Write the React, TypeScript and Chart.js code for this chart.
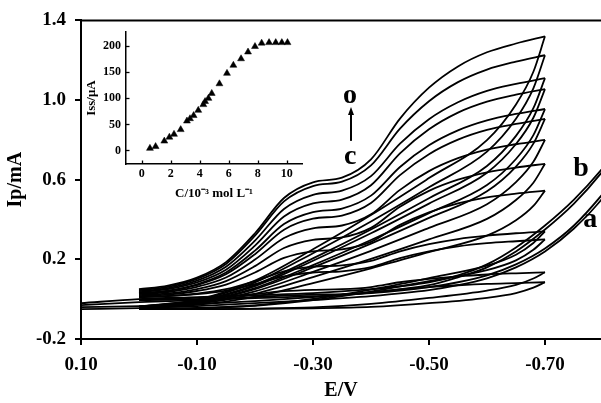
import React, { useEffect, useRef } from 'react';
import { Chart, registerables } from 'chart.js';
Chart.register(...registerables);

// ---- main chart data (E in V, I in mA) ----
const FWD_E = [0.0, -0.05, -0.1, -0.15, -0.2, -0.25, -0.3, -0.35, -0.4, -0.45, -0.5, -0.55, -0.6, -0.65, -0.7];
const REV_E = [-0.7, -0.68, -0.65, -0.6, -0.5, -0.4, -0.3, -0.2, -0.1, 0.0];

const o_fwd = [0.05, 0.068, 0.108, 0.186, 0.331, 0.508, 0.587, 0.61, 0.702, 0.907, 1.062, 1.169, 1.24, 1.284, 1.32];
const o_rev = [1.32, 1.142, 0.978, 0.799, 0.608, 0.423, 0.251, 0.094, -0.002, -0.036];
const n_fwd = [0.045, 0.062, 0.102, 0.177, 0.319, 0.491, 0.568, 0.59, 0.672, 0.856, 0.994, 1.09, 1.153, 1.193, 1.225];
const n_rev = [1.225, 1.059, 0.906, 0.741, 0.562, 0.39, 0.231, 0.084, -0.005, -0.037];
const m_fwd = [0.04, 0.056, 0.093, 0.163, 0.294, 0.453, 0.524, 0.545, 0.618, 0.781, 0.904, 0.989, 1.046, 1.081, 1.11];
const m_rev = [1.11, 0.959, 0.82, 0.669, 0.507, 0.35, 0.205, 0.072, -0.009, -0.038];
const l_fwd = [0.035, 0.05, 0.084, 0.148, 0.269, 0.415, 0.481, 0.5, 0.572, 0.732, 0.853, 0.937, 0.992, 1.027, 1.055];
const l_rev = [1.055, 0.911, 0.779, 0.635, 0.48, 0.331, 0.193, 0.066, -0.011, -0.039];
const k_fwd = [0.03, 0.043, 0.075, 0.134, 0.244, 0.377, 0.437, 0.455, 0.52, 0.664, 0.773, 0.848, 0.898, 0.93, 0.955];
const k_rev = [0.955, 0.824, 0.704, 0.573, 0.432, 0.297, 0.171, 0.056, -0.015, -0.04];
const j_fwd = [0.03, 0.042, 0.071, 0.125, 0.226, 0.349, 0.404, 0.42, 0.483, 0.623, 0.728, 0.801, 0.85, 0.88, 0.905];
const j_rev = [0.905, 0.781, 0.666, 0.542, 0.408, 0.279, 0.16, 0.05, -0.017, -0.04];
const i_fwd = [0.025, 0.036, 0.062, 0.109, 0.199, 0.307, 0.356, 0.37, 0.426, 0.549, 0.643, 0.708, 0.751, 0.778, 0.8];
const i_rev = [0.8, 0.69, 0.588, 0.477, 0.358, 0.243, 0.137, 0.039, -0.02, -0.042];
const h_fwd = [0.02, 0.029, 0.051, 0.091, 0.166, 0.257, 0.298, 0.31, 0.358, 0.464, 0.544, 0.6, 0.637, 0.661, 0.68];
const h_rev = [0.68, 0.585, 0.498, 0.403, 0.3, 0.202, 0.111, 0.027, -0.024, -0.043];
const g_fwd = [0.015, 0.023, 0.041, 0.073, 0.134, 0.207, 0.24, 0.25, 0.288, 0.373, 0.436, 0.481, 0.511, 0.53, 0.545];
const g_rev = [0.545, 0.468, 0.396, 0.319, 0.236, 0.155, 0.081, 0.012, -0.029, -0.044];
const f_fwd = [0.01, 0.016, 0.028, 0.05, 0.091, 0.14, 0.163, 0.17, 0.192, 0.24, 0.276, 0.302, 0.319, 0.331, 0.34];
const f_rev = [0.34, 0.282, 0.223, 0.168, 0.106, 0.048, 0.001, -0.031, -0.044, -0.048];
const e_fwd = [0.01, 0.015, 0.025, 0.043, 0.076, 0.115, 0.134, 0.14, 0.161, 0.206, 0.24, 0.265, 0.281, 0.291, 0.3];
const e_rev = [0.3, 0.248, 0.195, 0.146, 0.09, 0.038, -0.005, -0.033, -0.045, -0.048];
const d_fwd = [0.0, 0.002, 0.007, 0.014, 0.026, 0.04, 0.047, 0.05, 0.061, 0.085, 0.102, 0.115, 0.124, 0.13, 0.135];
const d_rev = [0.135, 0.104, 0.072, 0.043, 0.006, -0.024, -0.041, -0.047, -0.05, -0.05];
const c_fwd = [-0.005, -0.003, 0.0, 0.004, 0.011, 0.018, 0.023, 0.025, 0.033, 0.049, 0.061, 0.07, 0.077, 0.081, 0.085];
const c_rev = [0.085, 0.058, 0.031, 0.007, -0.02, -0.039, -0.046, -0.049, -0.05, -0.05];

// blank curves a, b (scanned beyond the plotted window)
const BLANK_E = [0.1, 0.0, -0.1, -0.2, -0.3, -0.4, -0.5, -0.55, -0.6, -0.65, -0.7, -0.75, -0.8, -0.85];
const a_fwd = [-0.03, -0.015, -0.005, 0.005, 0.015, 0.03, 0.06, 0.085, 0.12, 0.175, 0.255, 0.37, 0.53, 0.72];
const a_rev = [-0.05, -0.045, -0.035, -0.02, -0.005, 0.015, 0.045, 0.07, 0.105, 0.16, 0.24, 0.355, 0.51, 0.72];
const b_fwd = [-0.02, 0.0, 0.01, 0.02, 0.03, 0.05, 0.085, 0.12, 0.175, 0.26, 0.37, 0.5, 0.66, 0.85];
const b_rev = [-0.04, -0.035, -0.025, -0.01, 0.01, 0.035, 0.07, 0.11, 0.16, 0.24, 0.35, 0.48, 0.645, 0.85];

const X_TICKS = [-0.7, -0.5, -0.3, -0.1, 0.1];
const Y_TICKS = [-0.2, 0.2, 0.6, 1.0, 1.4];

// ---- inset data ----
const INSET_C = [0.57, 0.96, 1.56, 1.91, 2.23, 2.69, 3.12, 3.33, 3.58, 3.9, 4.25, 4.37, 4.6, 4.83, 5.36, 5.88, 6.32, 6.85, 7.33, 7.81, 8.27, 8.78, 9.24, 9.66, 10.05];
const INSET_I = [4, 7.5, 18, 25.5, 31, 40, 56.5, 61, 67, 77, 88, 94, 100, 109.5, 128, 148, 163.5, 176, 189, 199.5, 206, 207, 207, 207, 207];
const INSET_X_TICKS = [0, 2, 4, 6, 8, 10];
const INSET_Y_TICKS = [0, 50, 100, 150, 200];

const SERIF = '"Liberation Serif", "Times New Roman", serif';

function pts(xs: number[], ys: number[]) {
  return xs.map((x, i) => ({ x, y: ys[i] }));
}

function lineDs(data: { x: number; y: number }[]) {
  return {
    data,
    showLine: true,
    pointRadius: 0,
    borderColor: '#000',
    borderWidth: 1.8,
    fill: false,
    cubicInterpolationMode: 'monotone' as const,
  };
}

const LOOPS = [
  [c_fwd, c_rev], [d_fwd, d_rev], [e_fwd, e_rev], [f_fwd, f_rev], [g_fwd, g_rev],
  [h_fwd, h_rev], [i_fwd, i_rev], [j_fwd, j_rev], [k_fwd, k_rev], [l_fwd, l_rev],
  [m_fwd, m_rev], [n_fwd, n_rev], [o_fwd, o_rev],
];

const mainDecor = {
  id: 'mainDecor',
  afterDraw(chart: any) {
    const { ctx, chartArea, scales } = chart;
    const x = scales.x, y = scales.y;
    ctx.save();
    ctx.strokeStyle = '#000';
    ctx.lineWidth = 2;
    ctx.beginPath();
    ctx.moveTo(chartArea.left - 1, chartArea.top);
    ctx.lineTo(chartArea.right + 5, chartArea.top);
    ctx.stroke();
    ctx.fillStyle = '#000';
    ctx.font = 'bold 28px ' + SERIF;
    ctx.textAlign = 'center';
    ctx.textBaseline = 'alphabetic';
    ctx.fillText('o', x.getPixelForValue(-0.364), y.getPixelForValue(0.985));
    ctx.fillText('c', x.getPixelForValue(-0.364), y.getPixelForValue(0.68));
    ctx.fillText('b', x.getPixelForValue(-0.762), y.getPixelForValue(0.62));
    ctx.fillText('a', x.getPixelForValue(-0.778), y.getPixelForValue(0.36));
    // arrow c -> o
    const ax = x.getPixelForValue(-0.3655);
    const y0 = y.getPixelForValue(0.795);
    const y1 = y.getPixelForValue(0.965);
    ctx.lineWidth = 2;
    ctx.beginPath();
    ctx.moveTo(ax, y0);
    ctx.lineTo(ax, y1 + 5);
    ctx.stroke();
    ctx.beginPath();
    ctx.moveTo(ax, y1);
    ctx.lineTo(ax - 3, y1 + 8);
    ctx.lineTo(ax + 3, y1 + 8);
    ctx.closePath();
    ctx.fill();
    ctx.restore();
  },
};

const insetTicks = {
  id: 'insetTicks',
  afterDraw(chart: any) {
    const { ctx, chartArea, scales } = chart;
    ctx.save();
    ctx.strokeStyle = '#000';
    ctx.lineWidth = 1.3;
    scales.x.ticks.forEach((t: any) => {
      const px = Math.round(scales.x.getPixelForValue(t.value)) + 0.5;
      ctx.beginPath();
      ctx.moveTo(px, chartArea.bottom);
      ctx.lineTo(px, chartArea.bottom - 3.5);
      ctx.stroke();
    });
    scales.y.ticks.forEach((t: any) => {
      const py = Math.round(scales.y.getPixelForValue(t.value)) + 0.5;
      ctx.beginPath();
      ctx.moveTo(chartArea.left, py);
      ctx.lineTo(chartArea.left + 3.5, py);
      ctx.stroke();
    });
    ctx.restore();
  },
};

export default function App() {
  const mainRef = useRef<HTMLCanvasElement>(null);
  const insetRef = useRef<HTMLCanvasElement>(null);

  useEffect(() => {
    const datasets: any[] = [];
    LOOPS.forEach(([fw, rv]) => {
      datasets.push(lineDs(pts(FWD_E, fw)));
      datasets.push(lineDs(pts(REV_E, rv)));
    });
    [[a_fwd, a_rev], [b_fwd, b_rev]].forEach(([fw, rv]) => {
      datasets.push(lineDs(pts(BLANK_E, fw)));
      datasets.push(lineDs(pts(BLANK_E.slice().reverse(), rv.slice().reverse())));
    });

    const tickFont = { family: SERIF, weight: 'bold' as const, size: 19 };
    const titleFont = { family: SERIF, weight: 'bold' as const, size: 20, lineHeight: 1.2 };

    const main = new Chart(mainRef.current!, {
      type: 'scatter',
      data: { datasets },
      plugins: [mainDecor],
      options: {
        animation: false,
        responsive: false,
        layout: { padding: { top: 17, left: 0, right: 0, bottom: 0 } },
        plugins: { legend: { display: false }, tooltip: { enabled: false } },
        scales: {
          x: {
            type: 'linear',
            reverse: true,
            min: -0.7966,
            max: 0.1,
            afterBuildTicks: (s: any) => { s.ticks = X_TICKS.map((v) => ({ value: v })); },
            afterFit: (s: any) => { s.height = 64; },
            ticks: { color: '#000', font: tickFont, padding: 9, callback: (v: any) => Number(v).toFixed(2) },
            grid: { display: true, drawOnChartArea: false, drawTicks: true, tickLength: 6, color: '#000', lineWidth: 2 },
            border: { display: true, color: '#000', width: 2 },
            title: { display: true, text: 'E/V', color: '#000', font: titleFont, padding: { top: 0, bottom: 0 } },
          },
          y: {
            type: 'linear',
            min: -0.2,
            max: 1.4,
            afterBuildTicks: (s: any) => { s.ticks = Y_TICKS.map((v) => ({ value: v })); },
            afterFit: (s: any) => { s.width = 81; },
            ticks: { color: '#000', font: tickFont, padding: 9, callback: (v: any) => Number(v).toFixed(1) },
            grid: { display: true, drawOnChartArea: false, drawTicks: true, tickLength: 6, color: '#000', lineWidth: 2 },
            border: { display: true, color: '#000', width: 2 },
            title: { display: true, text: 'Ip/mA', color: '#000', font: titleFont, padding: { top: 4, bottom: 0 } },
          },
        },
      },
    });

    const insetFont = { family: SERIF, weight: 'bold' as const, size: 12 };
    const insetTitleFont = { family: SERIF, weight: 'bold' as const, size: 13, lineHeight: 1.2 };
    const inset = new Chart(insetRef.current!, {
      type: 'scatter',
      data: {
        datasets: [
          {
            data: pts(INSET_C, INSET_I),
            pointStyle: 'triangle',
            pointRadius: 4,
            backgroundColor: '#000',
            borderColor: '#000',
            borderWidth: 0.5,
          },
        ],
      },
      plugins: [insetTicks],
      options: {
        animation: false,
        responsive: false,
        layout: { padding: { top: 8, right: 8, left: 0, bottom: 0 } },
        plugins: { legend: { display: false }, tooltip: { enabled: false } },
        scales: {
          x: {
            type: 'linear',
            min: -1.08,
            max: 11.05,
            afterBuildTicks: (s: any) => { s.ticks = INSET_X_TICKS.map((v) => ({ value: v })); },
            afterFit: (s: any) => { s.height = 41; },
            ticks: { color: '#000', font: insetFont, padding: 3 },
            grid: { display: false, drawTicks: false },
            border: { display: true, color: '#000', width: 1.5 },
            title: { display: true, text: 'C/10\u207B\u00B3 mol L\u207B\u00B9', color: '#000', font: insetTitleFont, padding: { top: 0, bottom: 4 } },
          },
          y: {
            type: 'linear',
            min: -26,
            max: 227,
            afterBuildTicks: (s: any) => { s.ticks = INSET_Y_TICKS.map((v) => ({ value: v })); },
            afterFit: (s: any) => { s.width = 66; },
            ticks: { color: '#000', font: insetFont, padding: 5 },
            grid: { display: false, drawTicks: false },
            border: { display: true, color: '#000', width: 1.5 },
            title: { display: true, text: 'Iss/\u03BCA', color: '#000', font: insetTitleFont, padding: { top: 24, bottom: 0 } },
          },
        },
      },
    });

    return () => {
      main.destroy();
      inset.destroy();
    };
  }, []);

  return (
    <div style={{ position: 'absolute', left: 0, top: 0, width: 601, height: 403, overflow: 'hidden', background: '#fff' }}>
      <canvas ref={mainRef} width={601} height={403} style={{ position: 'absolute', left: 0, top: 0 }} />
      <canvas ref={insetRef} width={250} height={185} style={{ position: 'absolute', left: 60, top: 20 }} />
    </div>
  );
}
